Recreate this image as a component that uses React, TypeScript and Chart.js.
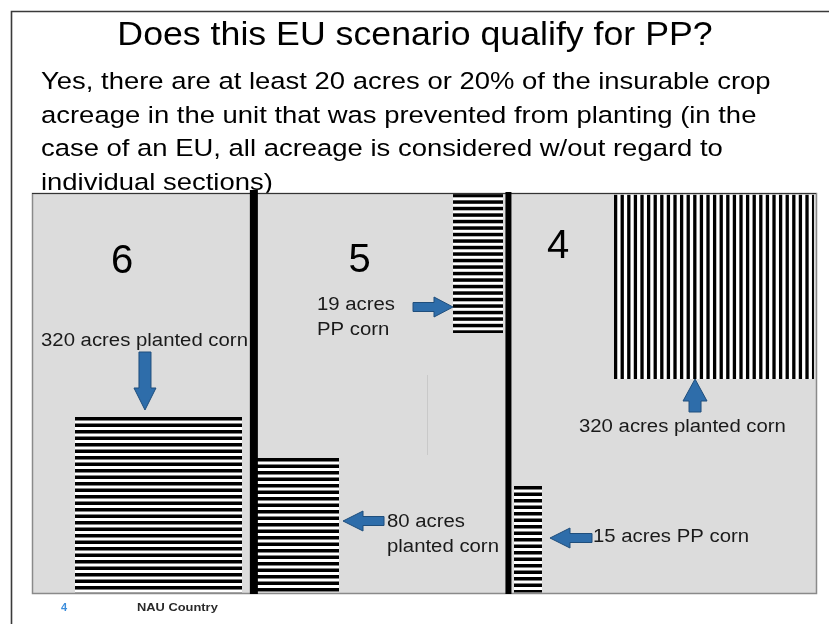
import React, { useEffect, useRef } from 'react';
import { Chart, registerables } from 'chart.js';

Chart.register(...registerables);

// ---------- content / data ----------
const TITLE = 'Does this EU scenario qualify for PP?';
const BODY_LINES = [
  'Yes, there are at least 20 acres or 20% of the insurable crop',
  'acreage in the unit that was prevented from planting (in the',
  'case of an EU, all acreage is considered w/out regard to',
  'individual sections)',
];
const SECTIONS = ['6', '5', '4'];
const BLOCK_SECTION = ['6', '5', '5', '4', '4'];
const BLOCK_ACRES = [320, 19, 80, 320, 15];
const BLOCK_USE = ['planted corn', 'PP corn', 'planted corn', 'planted corn', 'PP corn'];
const FOOTER_PAGE = '4';
const FOOTER_TEXT = 'NAU Country';

// ---------- field layout (field units: x 0..100 left->right, y 0..100 bottom->top) ----------
const SECTION_POS = [
  { x: 11.5, y: 80 },
  { x: 41.8, y: 80.25 },
  { x: 67.1, y: 83.75 },
];
const DIVIDERS = [
  { x: 28.3, y0: -0.25, y1: 100.75, w: 8 },
  { x: 60.77, y0: -0.25, y1: 100.25, w: 6 },
];
const BLOCK_RECTS = [
  { x0: 5.48, x1: 26.79, y0: 0.1, y1: 44, dir: 'h' },
  { x0: 53.7, x1: 60.08, y0: 65, y1: 99.8, dir: 'h' },
  { x0: 28.44, x1: 39.16, y0: 0.1, y1: 33.75, dir: 'h' },
  { x0: 74.23, x1: 99.74, y0: 53.5, y1: 99.6, dir: 'v' },
  { x0: 61.48, x1: 65.05, y0: 0.1, y1: 26.75, dir: 'h' },
];
const LABEL_POS = [
  { x: 1.15, y: 61.75, split: false },
  { x: 36.35, y: 70.75, split: true },
  { x: 45.28, y: 16.5, split: true },
  { x: 69.77, y: 40.25, split: false },
  { x: 71.56, y: 12.75, split: false },
];
const ARROWS = [
  { x0: 14.41, y0: 60.25, x1: 14.41, y1: 45.75, shaft: 12, head: 22, headLen: 22 },
  { x0: 48.6, y0: 71.5, x1: 53.7, y1: 71.5, shaft: 9, head: 20, headLen: 19 },
  { x0: 84.57, y0: 45.25, x1: 84.57, y1: 53.5, shaft: 12, head: 24, headLen: 22 },
  { x0: 44.9, y0: 18, x1: 39.67, y1: 18, shaft: 9, head: 20, headLen: 20 },
  { x0: 71.43, y0: 13.75, x1: 66.07, y1: 13.75, shaft: 9, head: 20, headLen: 20 },
];
const FAINT_LINE = { x: 50.38, y0: 34.5, y1: 54.5 };

const FONT = '"Liberation Sans", Arial, sans-serif';

function drawText(
  ctx: CanvasRenderingContext2D,
  text: string,
  x: number,
  y: number,
  font: string,
  stretch: number,
  align: 'left' | 'center' = 'left'
) {
  ctx.save();
  ctx.font = font;
  const w = ctx.measureText(text).width * stretch;
  const left = align === 'center' ? x - w / 2 : x;
  ctx.translate(left, y);
  ctx.scale(stretch, 1);
  ctx.textAlign = 'left';
  ctx.textBaseline = 'alphabetic';
  ctx.fillText(text, 0, 0);
  ctx.restore();
}

function drawArrow(
  ctx: CanvasRenderingContext2D,
  x0: number, y0: number, x1: number, y1: number,
  shaft: number, head: number, headLen: number
) {
  const dx = x1 - x0;
  const dy = y1 - y0;
  const L = Math.hypot(dx, dy);
  const ux = dx / L, uy = dy / L;
  const px = -uy, py = ux;
  const bx = x1 - ux * headLen, by = y1 - uy * headLen;
  ctx.save();
  ctx.beginPath();
  ctx.moveTo(x0 + px * shaft / 2, y0 + py * shaft / 2);
  ctx.lineTo(bx + px * shaft / 2, by + py * shaft / 2);
  ctx.lineTo(bx + px * head / 2, by + py * head / 2);
  ctx.lineTo(x1, y1);
  ctx.lineTo(bx - px * head / 2, by - py * head / 2);
  ctx.lineTo(bx - px * shaft / 2, by - py * shaft / 2);
  ctx.lineTo(x0 - px * shaft / 2, y0 - py * shaft / 2);
  ctx.closePath();
  ctx.fillStyle = '#2E6DAA';
  ctx.fill();
  ctx.strokeStyle = '#1F4E7C';
  ctx.lineWidth = 1;
  ctx.stroke();
  ctx.restore();
}

function drawStripes(
  ctx: CanvasRenderingContext2D,
  x0: number, y0: number, x1: number, y1: number, dir: string
) {
  ctx.save();
  ctx.beginPath();
  ctx.rect(x0, y0, x1 - x0, y1 - y0);
  ctx.clip();
  ctx.fillStyle = '#ffffff';
  ctx.fillRect(x0, y0, x1 - x0, y1 - y0);
  ctx.fillStyle = '#000000';
  if (dir === 'h') {
    for (let y = y0; y < y1; y += 6.5) ctx.fillRect(x0, y, x1 - x0, 3.5);
  } else {
    for (let x = x0; x < x1; x += 6.6) ctx.fillRect(x, y0, 3.3, y1 - y0);
  }
  ctx.restore();
}

const slidePlugin = {
  id: 'slidePlugin',
  beforeDraw(chart: any) {
    const ctx: CanvasRenderingContext2D = chart.ctx;
    const xs = chart.scales.x;
    const ys = chart.scales.y;
    const X = (v: number) => xs.getPixelForValue(v);
    const Y = (v: number) => ys.getPixelForValue(v);
    const W = chart.width, H = chart.height;
    const area = chart.chartArea;

    // page background
    ctx.save();
    ctx.fillStyle = '#ffffff';
    ctx.fillRect(0, 0, W, H);

    // slide frame
    ctx.strokeStyle = '#3a3a3a';
    ctx.lineWidth = 1.6;
    ctx.beginPath();
    ctx.moveTo(11.5, H);
    ctx.lineTo(11.5, 11.5);
    ctx.lineTo(W, 11.5);
    ctx.stroke();

    // title
    ctx.fillStyle = '#000000';
    drawText(ctx, TITLE, 415, 45, `34px ${FONT}`, 1.05, 'center');

    // body text
    BODY_LINES.forEach((line, i) => {
      drawText(ctx, line, 41, 89 + i * 33.7, `24.5px ${FONT}`, 1.12);
    });

    // field
    ctx.fillStyle = '#dcdcdc';
    ctx.fillRect(area.left, area.top, area.right - area.left, area.bottom - area.top);

    // faint line
    ctx.strokeStyle = '#c9c9c9';
    ctx.lineWidth = 1;
    ctx.beginPath();
    ctx.moveTo(Math.round(X(FAINT_LINE.x)) + 0.5, Y(FAINT_LINE.y1));
    ctx.lineTo(Math.round(X(FAINT_LINE.x)) + 0.5, Y(FAINT_LINE.y0));
    ctx.stroke();

    // striped acreage blocks
    BLOCK_RECTS.forEach((b) => {
      drawStripes(ctx, X(b.x0), Y(b.y1), X(b.x1), Y(b.y0), b.dir);
    });

    // field border
    ctx.strokeStyle = '#8a8a8a';
    ctx.lineWidth = 1.5;
    ctx.strokeRect(area.left + 0.5, area.top + 0.5, area.right - area.left, area.bottom - area.top);
    ctx.strokeStyle = '#333333';
    ctx.lineWidth = 1.2;
    ctx.beginPath();
    ctx.moveTo(area.left, area.top + 0.5);
    ctx.lineTo(area.right, area.top + 0.5);
    ctx.stroke();

    // section numbers
    ctx.fillStyle = '#000000';
    SECTIONS.forEach((s, i) => {
      drawText(ctx, s, X(SECTION_POS[i].x), Y(SECTION_POS[i].y), `40px ${FONT}`, 1.0, 'center');
    });

    // labels
    ctx.fillStyle = '#1a1a1a';
    BLOCK_ACRES.forEach((a, i) => {
      const p = LABEL_POS[i];
      const f = `18px ${FONT}`;
      if (p.split) {
        drawText(ctx, `${a} acres`, X(p.x), Y(p.y), f, 1.13);
        drawText(ctx, BLOCK_USE[i], X(p.x), Y(p.y) + 24.5, f, 1.13);
      } else {
        drawText(ctx, `${a} acres ${BLOCK_USE[i]}`, X(p.x), Y(p.y), f, 1.13);
      }
    });

    // arrows
    ARROWS.forEach((a) => {
      drawArrow(ctx, X(a.x0), Y(a.y0), X(a.x1), Y(a.y1), a.shaft, a.head, a.headLen);
    });

    // section dividers
    ctx.fillStyle = '#000000';
    DIVIDERS.forEach((d) => {
      const cx = X(d.x);
      ctx.fillRect(cx - d.w / 2, Y(d.y1), d.w, Y(d.y0) - Y(d.y1));
    });

    // footer
    ctx.fillStyle = '#3C8DDB';
    drawText(ctx, FOOTER_PAGE, 61, 611, `bold 11px ${FONT}`, 1.0);
    ctx.fillStyle = '#2a2a2a';
    drawText(ctx, FOOTER_TEXT, 137, 611, `bold 11px ${FONT}`, 1.17);

    ctx.restore();
  },
};

export default function App() {
  const ref = useRef<HTMLCanvasElement | null>(null);

  useEffect(() => {
    if (!ref.current) return;
    const chart = new Chart(ref.current, {
      type: 'scatter',
      data: {
        datasets: [
          {
            label: BLOCK_SECTION.join(','),
            data: [],
          },
        ],
      },
      options: {
        responsive: false,
        animation: false,
        events: [],
        layout: { padding: { left: 32, right: 13, top: 193, bottom: 31 } },
        plugins: {
          legend: { display: false },
          tooltip: { enabled: false },
        },
        scales: {
          x: { type: 'linear', min: 0, max: 100, display: false },
          y: { type: 'linear', min: 0, max: 100, display: false },
        },
      },
      plugins: [slidePlugin],
    });
    return () => chart.destroy();
  }, []);

  return (
    <div style={{ position: 'absolute', left: 0, top: 0, width: 829, height: 624 }}>
      <canvas ref={ref} width={829} height={624} style={{ display: 'block' }} />
    </div>
  );
}
